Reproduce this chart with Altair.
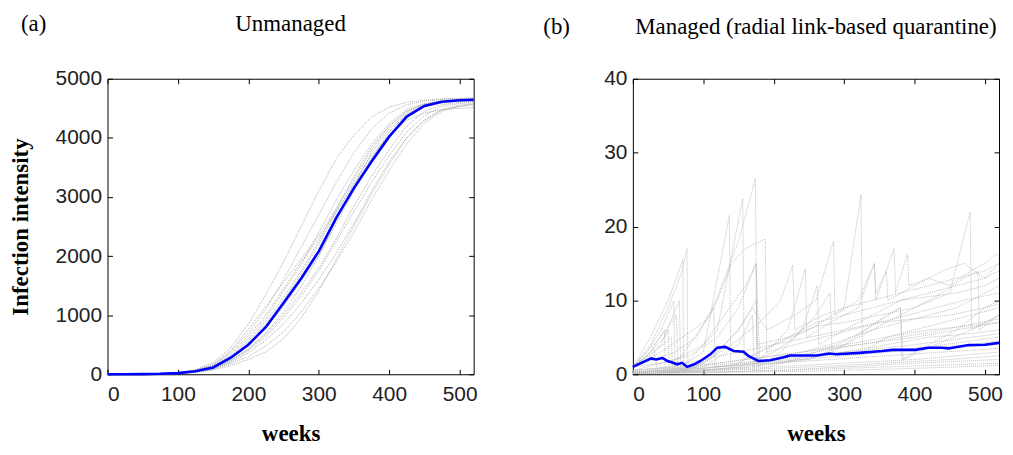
import altair as alt
import pandas as pd

# ---------------- Panel (a): unmanaged ----------------
weeks_a = [0, 25, 50, 75, 100, 125, 150, 175, 200, 225, 250, 275, 300, 325,
           350, 375, 400, 425, 450, 475, 500, 520]
mean_a = [0, 1, 3, 8, 20, 50, 115, 280, 500, 800, 1205, 1620, 2080, 2650,
          3150, 3600, 4020, 4360, 4540, 4610, 4635, 4645]

run_a01 = [0, 1, 4, 12, 30, 80, 200, 450, 850, 1350, 1900, 2500, 3100, 3650, 4050, 4350, 4520, 4600, 4640, 4660, 4670, 4675]
run_a02 = [0, 1, 3, 10, 25, 65, 160, 380, 700, 1100, 1600, 2150, 2700, 3250, 3750, 4150, 4420, 4560, 4620, 4650, 4660, 4665]
run_a03 = [0, 1, 3, 9, 22, 58, 135, 320, 600, 950, 1400, 1850, 2400, 2950, 3450, 3900, 4250, 4480, 4580, 4630, 4650, 4660]
run_a04 = [0, 1, 3, 8, 18, 45, 110, 260, 480, 780, 1150, 1580, 2000, 2550, 3100, 3650, 4100, 4400, 4550, 4600, 4620, 4630]
run_a05 = [0, 1, 2, 7, 17, 42, 100, 230, 420, 680, 1000, 1380, 1800, 2300, 2850, 3350, 3800, 4200, 4450, 4560, 4600, 4620]
run_a06 = [0, 1, 2, 6, 15, 38, 90, 200, 360, 580, 850, 1200, 1600, 2050, 2550, 3100, 3600, 4000, 4300, 4480, 4550, 4580]
run_a07 = [0, 1, 2, 6, 14, 35, 80, 180, 300, 480, 720, 1050, 1450, 1900, 2400, 2950, 3450, 3900, 4250, 4450, 4530, 4560]
run_a08 = [0, 1, 4, 11, 28, 70, 170, 400, 760, 1150, 1550, 1950, 2350, 2800, 3300, 3800, 4200, 4450, 4570, 4620, 4640, 4650]
run_a09 = [0, 1, 3, 8, 20, 52, 120, 290, 530, 850, 1250, 1700, 2200, 2750, 3250, 3700, 4050, 4300, 4420, 4480, 4500, 4510]
run_a10 = [0, 1, 3, 8, 20, 48, 105, 240, 430, 700, 1050, 1480, 2000, 2600, 3200, 3750, 4150, 4420, 4560, 4620, 4640, 4650]
run_a11 = [0, 1, 2, 5, 12, 30, 70, 150, 250, 380, 600, 950, 1400, 1950, 2500, 3050, 3550, 4000, 4300, 4470, 4540, 4570]
run_a12 = [0, 1, 3, 9, 24, 60, 150, 350, 650, 1000, 1450, 1900, 2300, 2750, 3200, 3650, 4050, 4350, 4520, 4590, 4620, 4630]
run_a13 = [0, 1, 3, 9, 21, 55, 128, 300, 560, 900, 1300, 1750, 2250, 2800, 3350, 3850, 4200, 4450, 4570, 4620, 4640, 4650]
run_a14 = [0, 1, 2, 7, 16, 40, 95, 215, 400, 640, 950, 1320, 1750, 2250, 2750, 3250, 3700, 4100, 4380, 4530, 4580, 4600]
runs_a = [run_a01, run_a02, run_a03, run_a04, run_a05, run_a06, run_a07,
          run_a08, run_a09, run_a10, run_a11, run_a12, run_a13, run_a14]

# ---------------- Panel (b): managed ----------------
mean_b_weeks = [0, 26, 33, 42, 49, 56, 63, 70, 77, 87, 96, 110, 120, 131, 143,
                157, 164, 178, 195, 214, 223, 261, 279, 289, 322, 354, 369,
                401, 420, 439, 448, 477, 500, 520]
mean_b = [1.0, 2.15, 2.0, 2.2, 1.8, 1.6, 1.35, 1.55, 1.0, 1.35, 1.8, 2.7, 3.6,
          3.7, 3.15, 3.05, 2.5, 1.8, 1.9, 2.3, 2.55, 2.55, 2.8, 2.7, 2.9, 3.15,
          3.3, 3.3, 3.6, 3.6, 3.5, 3.95, 4.0, 4.25]

run_b01 = [(0, 1), (25, 4), (50, 9), (70, 14), (77, 17), (78, 1), (100, 1.5), (140, 4), (180, 7), (210, 10), (227, 14.8), (230, 6), (270, 8), (300, 9), (340, 10), (380, 11), (420, 12), (460, 13), (500, 14), (520, 15)]
run_b02 = [(0, 1), (25, 5), (50, 10), (71, 15.5), (72, 0.5), (110, 2), (150, 6), (170, 9), (190, 6), (230, 8), (260, 10), (285, 18), (287, 8), (320, 10), (343, 15), (345, 10), (371, 17), (373, 11), (390, 16.3), (392, 12), (420, 13), (450, 12), (480, 14), (500, 15), (516, 16.3), (520, 16)]
run_b03 = [(0, 1), (20, 3), (40, 6), (58, 9.9), (60, 0.5), (100, 3), (137, 21.5), (139, 1), (180, 3), (220, 5), (260, 7), (300, 8), (340, 9), (380, 10), (420, 10.5), (460, 11), (500, 12), (520, 13)]
run_b04 = [(0, 1), (30, 4), (55, 7), (62, 8), (64, 0.3), (120, 6), (156, 23.8), (158, 2), (200, 4), (250, 6), (300, 9), (324, 24.3), (326, 3), (360, 5), (400, 6), (440, 7), (480, 8), (520, 9)]
run_b05 = [(0, 1), (20, 2.5), (45, 5), (50, 6), (52, 0.2), (110, 8), (150, 18), (174, 26.5), (176, 4), (220, 5), (260, 6.5), (300, 7), (350, 8), (400, 9), (450, 11), (479, 22), (481, 6), (520, 8)]
run_b06 = [(0, 1), (30, 2), (60, 3), (90, 5), (120, 10), (140, 15), (160, 17), (188, 18.3), (190, 3), (230, 4), (270, 5), (310, 6), (350, 7), (390, 8), (430, 9), (470, 10), (520, 11)]
run_b07 = [(0, 1), (40, 1.5), (80, 2.5), (120, 5), (150, 9), (175, 15), (180, 2), (220, 6), (245, 14.3), (247, 5), (280, 7), (320, 9), (343, 15), (345, 11), (360, 14), (362, 10), (400, 12), (440, 14), (470, 15), (500, 13), (520, 15)]
run_b08 = [(0, 0.5), (50, 1), (100, 2), (150, 3), (200, 4), (250, 5), (300, 6), (350, 7), (400, 7.5), (450, 8), (500, 9), (520, 9.5)]
run_b09 = [(0, 0.3), (60, 0.6), (120, 1), (180, 1.5), (240, 2), (300, 2.5), (360, 3), (420, 3.5), (480, 4), (520, 4.5)]
run_b10 = [(0, 0.2), (100, 0.5), (200, 1), (300, 1.5), (400, 2), (520, 3)]
run_b11 = [(0, 0.5), (80, 1), (160, 2), (240, 3), (320, 4), (400, 5), (460, 6), (520, 7)]
run_b12 = [(0, 1), (30, 3), (55, 5), (56, 0.2), (100, 0.5), (150, 1), (200, 2), (260, 3), (320, 4), (380, 5), (440, 6), (520, 7.5)]
run_b13 = [(0, 1), (25, 3), (45, 6), (46, 0.3), (120, 1), (200, 1.5), (280, 2), (360, 2.5), (440, 3), (520, 3.5)]
run_b14 = [(0, 0.1), (120, 0.3), (240, 0.6), (360, 1), (520, 1.5)]
run_b15 = [(0, 0.2), (150, 0.8), (250, 2), (300, 4), (330, 6), (360, 8), (380, 9), (382, 2), (420, 4), (460, 6), (500, 9), (520, 10)]
run_b16 = [(0, 1), (20, 2), (40, 4), (66, 10), (68, 0.5), (90, 1), (120, 3), (150, 6), (175, 10), (178, 1), (210, 3), (240, 6), (262, 12), (264, 4), (300, 6), (340, 8), (380, 10), (420, 11), (460, 12), (500, 13), (520, 14)]
run_b17 = [(0, 0.3), (100, 1), (150, 4), (170, 8), (172, 0.5), (230, 2), (290, 4), (330, 6), (380, 9), (384, 2), (430, 4), (480, 6), (520, 8)]
run_b18 = [(0, 0.5), (60, 2), (100, 4), (130, 8), (160, 12), (175, 15), (176, 2), (200, 3), (230, 5), (260, 8), (280, 11), (283, 3), (320, 5), (360, 7), (400, 9), (440, 11), (470, 13), (490, 14), (492, 6), (520, 8)]
run_b19 = [(0, 0.1), (200, 0.5), (300, 1), (400, 1.5), (520, 2)]
run_b20 = [(0, 0.2), (80, 0.5), (160, 1), (240, 2), (300, 3), (360, 4), (420, 5), (480, 5.5), (520, 6)]
run_b21 = [(0, 0.3), (100, 0.8), (200, 1.8), (300, 2.8), (400, 3.5), (520, 5)]
run_b22 = [(0, 1), (15, 2), (30, 3.5), (35, 0.2), (150, 0.6), (300, 1.2), (450, 2), (520, 2.5)]
run_b23 = [(0, 0.5), (120, 1.5), (240, 3), (330, 4.5), (420, 6), (520, 7)]
run_b24 = [(0, 0.2), (200, 2), (280, 4), (340, 6), (400, 7.5), (460, 9), (520, 12)]
run_b25 = [(0, 1), (40, 3), (70, 5), (100, 7), (115, 9), (117, 1), (200, 2), (300, 3), (400, 4), (520, 5.5)]
run_b26 = [(0, 0.1), (250, 0.4), (400, 0.8), (520, 1.2)]
runs_b = [run_b01, run_b02, run_b03, run_b04, run_b05, run_b06, run_b07,
          run_b08, run_b09, run_b10, run_b11, run_b12, run_b13, run_b14,
          run_b15, run_b16, run_b17, run_b18, run_b19, run_b20, run_b21,
          run_b22, run_b23, run_b24, run_b25, run_b26]

x_ticks = [0, 100, 200, 300, 400, 500]
y_ticks_a = [0, 1000, 2000, 3000, 4000, 5000]
y_ticks_b = [0, 10, 20, 30, 40]

# ---------------- tables ----------------
grey_a = pd.DataFrame([
    {"run": i, "week": w, "value": v}
    for i, vals in enumerate(runs_a) for w, v in zip(weeks_a, vals)
])
blue_a = pd.DataFrame({"week": weeks_a, "value": mean_a})
grey_b = pd.DataFrame([
    {"run": i, "week": w, "value": v}
    for i, pts in enumerate(runs_b) for w, v in pts
])
blue_b = pd.DataFrame({"week": mean_b_weeks, "value": mean_b})

W, H = 368, 297
SERIF = "Liberation Serif"


def panel(grey_df, blue_df, ymax, yticks, tag, title, ytitle, tag_x, title_y,
          grey_color):
    xs = alt.Scale(domain=[0, 520], nice=False, zero=False)
    ys = alt.Scale(domain=[0, ymax], nice=False)
    yax = dict(orient="left", values=yticks, offset=-5, tickSize=5,
               labelPadding=6, domain=False, grid=False, titlePadding=23,
               format="d")
    grey = alt.Chart(grey_df).mark_line(
        color=grey_color, strokeWidth=0.8, strokeDash=[1, 1]
    ).encode(
        x=alt.X("week:Q", scale=xs, title="weeks",
                axis=alt.Axis(orient="bottom", values=x_ticks, offset=-5,
                              tickSize=5, labelPadding=9, domain=False,
                              grid=False, titlePadding=19, format="d")),
        y=(alt.Y("value:Q", scale=ys, title=ytitle, axis=alt.Axis(**yax))
           if ytitle else
           alt.Y("value:Q", scale=ys, title=None, axis=alt.Axis(**yax))),
        detail="run:N",
        order="week:Q",
    )
    blue = alt.Chart(blue_df).mark_line(color="#0000ff", strokeWidth=2.6).encode(
        x=alt.X("week:Q", scale=xs, title=None,
                axis=alt.Axis(orient="top", values=x_ticks, offset=-5,
                              tickSize=5, labels=False, domain=False,
                              grid=False)),
        y=alt.Y("value:Q", scale=ys, title=None,
                axis=alt.Axis(orient="right", values=yticks, offset=-5,
                              tickSize=5, labels=False, domain=False,
                              grid=False)),
        order="week:Q",
    )
    tag_txt = alt.Chart(pd.DataFrame({"t": [tag]})).mark_text(
        font=SERIF, fontSize=23, align="left", baseline="alphabetic",
        color="black"
    ).encode(text="t:N", x=alt.value(tag_x), y=alt.value(title_y))
    title_txt = alt.Chart(pd.DataFrame({"t": [title]})).mark_text(
        font=SERIF, fontSize=23, align="center", baseline="alphabetic",
        color="black"
    ).encode(text="t:N", x=alt.value(W / 2), y=alt.value(title_y))
    return alt.layer(grey, blue, tag_txt, title_txt).resolve_axis(
        x="independent", y="independent"
    ).properties(width=W, height=H)


pa = panel(grey_a, blue_a, 5000, y_ticks_a, "(a)", "Unmanaged",
           "Infection intensity", -87, -48, "#9c9c9c")
pb = panel(grey_b, blue_b, 40, y_ticks_b, "(b)",
           "Managed (radial link-based quarantine)", None, -90, -45, "#b0b0b0")

chart = alt.hconcat(pa, pb, spacing=160, bounds="flush").properties(
    padding={"left": 0, "top": 3, "right": 0, "bottom": 0}
).configure_view(
    stroke="black", strokeWidth=1
).configure_axis(
    labelFont="Liberation Sans", labelFontSize=21, labelColor="#222222",
    tickColor="black", tickWidth=1,
    titleFont=SERIF, titleFontSize=23, titleFontWeight="bold",
    titleColor="black"
)

chart.save("out.html", embed_options={"renderer": "svg", "actions": False})
